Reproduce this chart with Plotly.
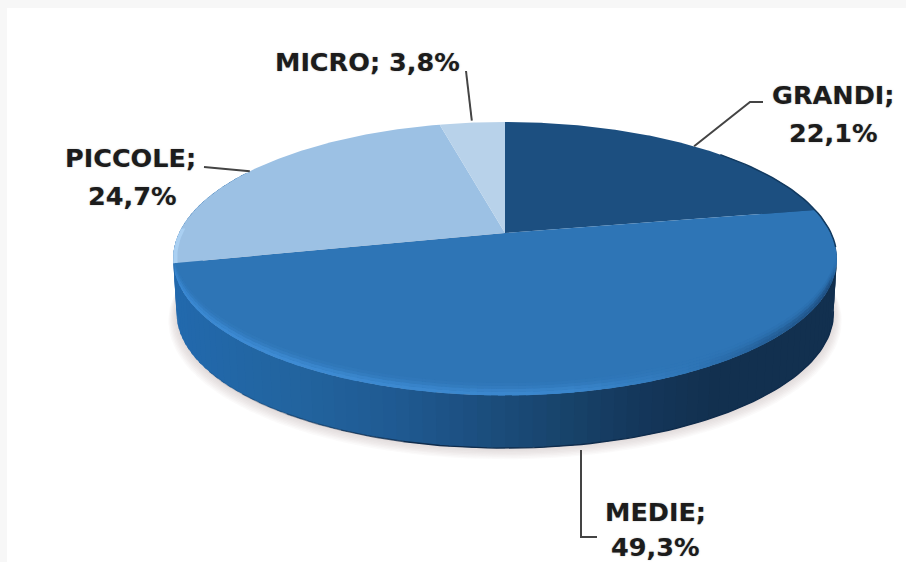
import numpy as np
import plotly.graph_objects as go

# ---- data ----
categories = ["GRANDI", "MEDIE", "PICCOLE", "MICRO"]
shares = [22.1, 49.3, 24.7, 3.8]
slice_colors = ["#1c4f80", "#2e75b6", "#9cc1e4", "#b8d2ea"]

# ---- pie geometry (perspective view of a disc) ----
CX, CY, A, B, K = 505, 233, 326, 131.8, 0.187
DEPTH = 55
W, H = 906, 562


def project(theta_deg, r=1.0, dz=0.0):
    t = np.radians(theta_deg)
    u, v = r * np.sin(t), r * np.cos(t)
    w = 1 + K * v
    return CX + A * u / w, CY - B * v / w + dz


def hex2rgb(c):
    return np.array([int(c[i:i + 2], 16) for i in (1, 3, 5)], float)


def rgb2hex(c):
    return "#%02x%02x%02x" % tuple(int(round(x)) for x in c)


def ramp(x, xs, cols):
    arr = np.array([hex2rgb(c) for c in cols])
    return rgb2hex([np.interp(x, xs, arr[:, i]) for i in range(3)])


def poly(fig, x, y, color, opacity=1.0):
    fig.add_trace(go.Scatter(x=list(x), y=list(y), mode="lines", fill="toself",
                             fillcolor=color, line=dict(width=0), opacity=opacity,
                             hoverinfo="skip", showlegend=False))


def line(fig, x, y, color, width, opacity=1.0):
    fig.add_trace(go.Scatter(x=list(x), y=list(y), mode="lines",
                             line=dict(color=color, width=width), opacity=opacity,
                             hoverinfo="skip", showlegend=False))


fig = go.Figure()

# soft shadow below the disc
th = np.linspace(60, 300, 120)
for s in range(1, 9):
    sx, sy = project(th, 0.99 + 0.003 * (9 - s), DEPTH + (9 - s) * 0.8)
    poly(fig, sx, sy, "#a8a29c", 0.05)

# side wall with a left-to-right gradient
side_x = [175, 300, 400, 480, 580, 650, 720, 840]
side_c = ["#2269ad", "#22649f", "#1f5a92", "#1c4f80", "#174269", "#14365a", "#12304f", "#12304f"]
edges = np.linspace(60, 300, 121)
for a, b in zip(edges[:-1], edges[1:]):
    b2 = min(b + 1.0, 300)
    seg = np.array([a, b2])
    x1, y1 = project(seg)
    x2, y2 = project(seg[::-1], 0.99, DEPTH)
    poly(fig, np.r_[x1, x2], np.r_[y1, y2], ramp(project(a)[0], side_x, side_c))

# dark lower edge of the wall, fading out towards the left
th = np.linspace(100, 195, 70)
ex, ey = project(th, 0.99, DEPTH)
line(fig, ex, ey, "#0f2c4c", 1.4)
for a, b, op in [(195, 205, 0.75), (205, 215, 0.5), (215, 225, 0.3), (225, 235, 0.15)]:
    th = np.linspace(a, b, 8)
    ex, ey = project(th, 0.99, DEPTH)
    line(fig, ex, ey, "#0f2c4c", 1.4, op)

# top surface wedges
bounds = np.cumsum([0] + shares) * 3.6 / (sum(shares) / 100)
for name, color, a, b in zip(categories, slice_colors, bounds[:-1], bounds[1:]):
    th = np.linspace(a, b, max(int(b - a) * 2, 8))
    x, y = project(th)
    poly(fig, np.r_[CX, x], np.r_[CY, y], color)

# bevel along the rim of the largest slice: a soft band hugging the front edge
rim_a, rim_b = 102, 254
rim_th = [rim_a, 112, 135, 150, 170, 215, 245, rim_b]
rim_c = ["#2e75b6", "#1e4f82", "#245f98", "#2e75b6", "#3a86cc", "#3e8bd3", "#3a88d2", "#3a84cc"]
base = hex2rgb("#2e75b6")
edges = np.linspace(rim_a, rim_b, 77)
bands = [(-12, -9, 0.12), (-9, -6, 0.35), (-6, -3, 0.75), (-3, 0.3, 1.0)]
for lo, hi, mix in bands:
    for a, b in zip(edges[:-1], edges[1:]):
        b2 = min(b + 1.0, rim_b)
        c = hex2rgb(ramp(a, rim_th, rim_c))
        col = rgb2hex(base + (c - base) * mix)
        seg = np.array([a, b2])
        x1, y1 = project(seg, 1.0, hi)
        x2, y2 = project(seg[::-1], 1.0, lo)
        poly(fig, np.r_[x1, x2], np.r_[y1, y2], col)

# light rim on the left of the small slice, dark outline upper right
th = np.linspace(bounds[2], 272, 12)
x1, y1 = project(th)
x2, y2 = project(th[::-1], 0.988)
poly(fig, np.r_[x1, x2], np.r_[y1, y2], "#aad0f2")
th = np.linspace(48, 96, 30)
ox, oy = project(th)
line(fig, ox, oy, "#123a60", 1.5)

# leader lines (anchored on the disc)
lead = "#444444"
mx, my = project(bounds[3] + 1.6 * 3.6 + 1.0)
line(fig, [466, mx], [71, my - 2], lead, 2)
px, py = project(bounds[2] + 0.49 * (bounds[3] - bounds[2]))
line(fig, [204, px], [167, py], lead, 2)
gx, gy = project(0.52 * bounds[1])
line(fig, [gx, 750, 763], [gy, 102, 102], lead, 2)
line(fig, [581, 581, 597], [450, 537, 537], lead, 2)

# labels
def pct(v):
    return f"{v:.1f}%".replace(".", ",")


font = dict(family="DejaVu Sans", size=25.5, color="#1c1c1c", weight="bold",
            shadow="0 0 1.5px #77777799")
labels = [
    (f"{categories[3]}; {pct(shares[3])}", 367, 62),
    (f"{categories[2]};", 130, 158),
    (pct(shares[2]), 132, 196),
    (f"{categories[0]};", 833, 95),
    (pct(shares[0]), 833, 133),
    (f"{categories[1]};", 655, 512),
    (pct(shares[1]), 655, 546.5),
]
annotations = [dict(x=x, y=y, text=t, showarrow=False, font=font, xref="x", yref="y",
                    xanchor="center", yanchor="middle") for t, x, y in labels]

fig.update_layout(
    width=W, height=H, margin=dict(l=0, r=0, t=0, b=0),
    paper_bgcolor="#f7f7f7", plot_bgcolor="#f7f7f7", showlegend=False,
    xaxis=dict(range=[0, W], visible=False, fixedrange=True),
    yaxis=dict(range=[H, 0], visible=False, fixedrange=True),
    annotations=annotations,
    shapes=[dict(type="rect", xref="x", yref="y", x0=7, y0=8, x1=W, y1=H,
                 fillcolor="#ffffff", line=dict(width=0), layer="below")],
)
fig.write_html("out.html", config=dict(displayModeBar=False),
               post_script="document.body.style.margin='0';document.body.style.overflow='hidden';")
